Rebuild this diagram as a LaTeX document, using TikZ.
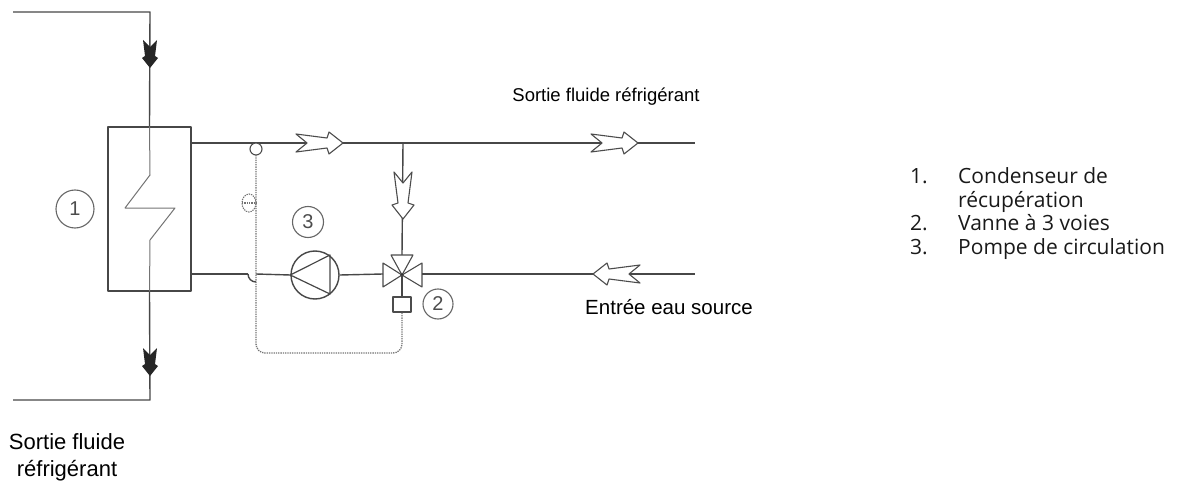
\documentclass[tikz,border=0pt]{standalone}
\usepackage{fontspec}
\setmainfont{Liberation Sans}
\newfontfamily\legendfont{Open Sans}
\begin{document}
\begin{tikzpicture}[x=1pt,y=-1pt,line join=round,
  pipe/.style={draw=black!72,line width=1.4pt},
  thinpipe/.style={draw=black!55,line width=1pt},
  ctrl/.style={draw=black!55,line width=1.3pt,densely dotted},
  numcircle/.style={circle,draw=black!60,line width=1.1pt,inner sep=0pt,font=\fontsize{20}{20}\selectfont,text=black!70},
  lbl/.style={text=black,align=center},
  leg/.style={font=\legendfont\fontsize{21}{24}\selectfont,text=black!90,anchor=base west,inner sep=0pt},
  flowarrow/.pic={\draw[draw=black!70,line width=1.1pt,fill=white] (0,0) -- (-14,11) -- (-16,5) -- (-47,9) -- (-36,0) -- (-47,-9) -- (-16,-5) -- (-14,-11) -- cycle;},
  blackarrow/.pic={\fill[black!85] (0,0) -- (-10,8) -- (-12,5) -- (-28,7) -- (-21,0) -- (-28,-7) -- (-12,-5) -- (-10,-8) -- cycle;}
]
\useasboundingbox (0,0) rectangle (1178,492);

% heat exchanger
\node[draw=black!72,line width=1.4pt,minimum width=83pt,minimum height=164pt,inner sep=0pt] (hx) at (149.5,209) {};
\coordinate (tl) at (13,12);
\coordinate (tc) at (150,12);
\coordinate (bl) at (13,400);
\coordinate (bc) at (150,400);
\draw[pipe] (tl) -- (tc) -- (hx.north);
\draw[thinpipe] (hx.north) -- (150,175) -- (125,208) -- (175,208) -- (150,240) -- (hx.south);
\draw[pipe] (hx.south) -- (bc) -- (bl);
\pic[rotate=-90] at (150,68) {blackarrow};
\pic[rotate=-90] at (150,376) {blackarrow};
\node[numcircle,minimum size=38pt] (c1) at (75,209) {1};

% top pipe
\coordinate (hxt) at (191,143);
\coordinate (tend) at (695,143);
\coordinate (tee) at (403,143);
\draw[pipe] (hxt) -- (tend);
\pic at (343,143) {flowarrow};
\pic at (638,143) {flowarrow};

% valve
\coordinate (v) at (402,275);
\draw[pipe] (tee) -- (402,255);
\pic[rotate=-90] at (403,219) {flowarrow};
\draw[draw=black!70,line width=1.1pt,fill=white] (v) -- (383,263) -- (383,287) -- cycle;
\draw[draw=black!70,line width=1.1pt,fill=white] (v) -- (422,263) -- (422,287) -- cycle;
\draw[draw=black!70,line width=1.1pt,fill=white] (v) -- (391,255) -- (413,255) -- cycle;
\fill[black!80] (v) circle (1.8pt);
\node[draw=black!70,line width=1.1pt,minimum width=18pt,minimum height=15pt,inner sep=0pt] (act) at (402,304.5) {};
\draw[pipe] (v) -- (act.north);
\node[numcircle,minimum size=30pt] (c2) at (438,304) {2};

% pump
\node[circle,draw=black!72,line width=1.4pt,minimum size=48pt,inner sep=0pt] (pump) at (315,275) {};
\draw[draw=black!72,line width=1.2pt] (pump.west) -- (330,255) -- (330,294) -- cycle;
\node[numcircle,minimum size=31pt] (c3) at (308,222) {3};

% bottom pipe
\coordinate (hxb) at (191,274);
\coordinate (bend) at (695,274);
\draw[pipe] (hxb) -- (248,274);
\draw[pipe] (248,274) arc[start angle=180,end angle=90,radius=8];
\draw[pipe] (256,274) -- (pump.west);
\draw[pipe] (pump.east) -- (383,274);
\draw[pipe] (422,274) -- (bend);
\pic[rotate=180] at (593,274) {flowarrow};

% control line
\draw[draw=black!70,line width=1.1pt,fill=white] (256,149) circle (6pt);
\coordinate (sens) at (256,155);
\draw[ctrl,rounded corners=9pt] (sens) -- (256,353) -- (402,353) -- (act.south);
\draw[ctrl,line width=1.1pt] (249,203) ellipse (7pt and 9pt);
\draw[ctrl,line width=1.1pt] (242,203) -- (256,203);

% labels
\node[lbl,font=\fontsize{18.5}{22}\selectfont] (ltop) at (606,97) {Sortie fluide réfrigérant};
\node[lbl,font=\fontsize{20.5}{24}\selectfont] (lin) at (669,307) {Entrée eau source};
\node[lbl,font=\fontsize{22}{27}\selectfont] (lbot) at (67,457) {Sortie fluide\\réfrigérant};

% legend
\node[leg] (n1) at (910,183) {1.};
\node[leg] (t1) at (958,183) {Condenseur de};
\node[leg] (t1b) at (958,207) {récupération};
\node[leg] (n2) at (910,230) {2.};
\node[leg] (t2) at (958,230) {Vanne à 3 voies};
\node[leg] (n3) at (910,254) {3.};
\node[leg] (t3) at (958,254) {Pompe de circulation};
\end{tikzpicture}
\end{document}
